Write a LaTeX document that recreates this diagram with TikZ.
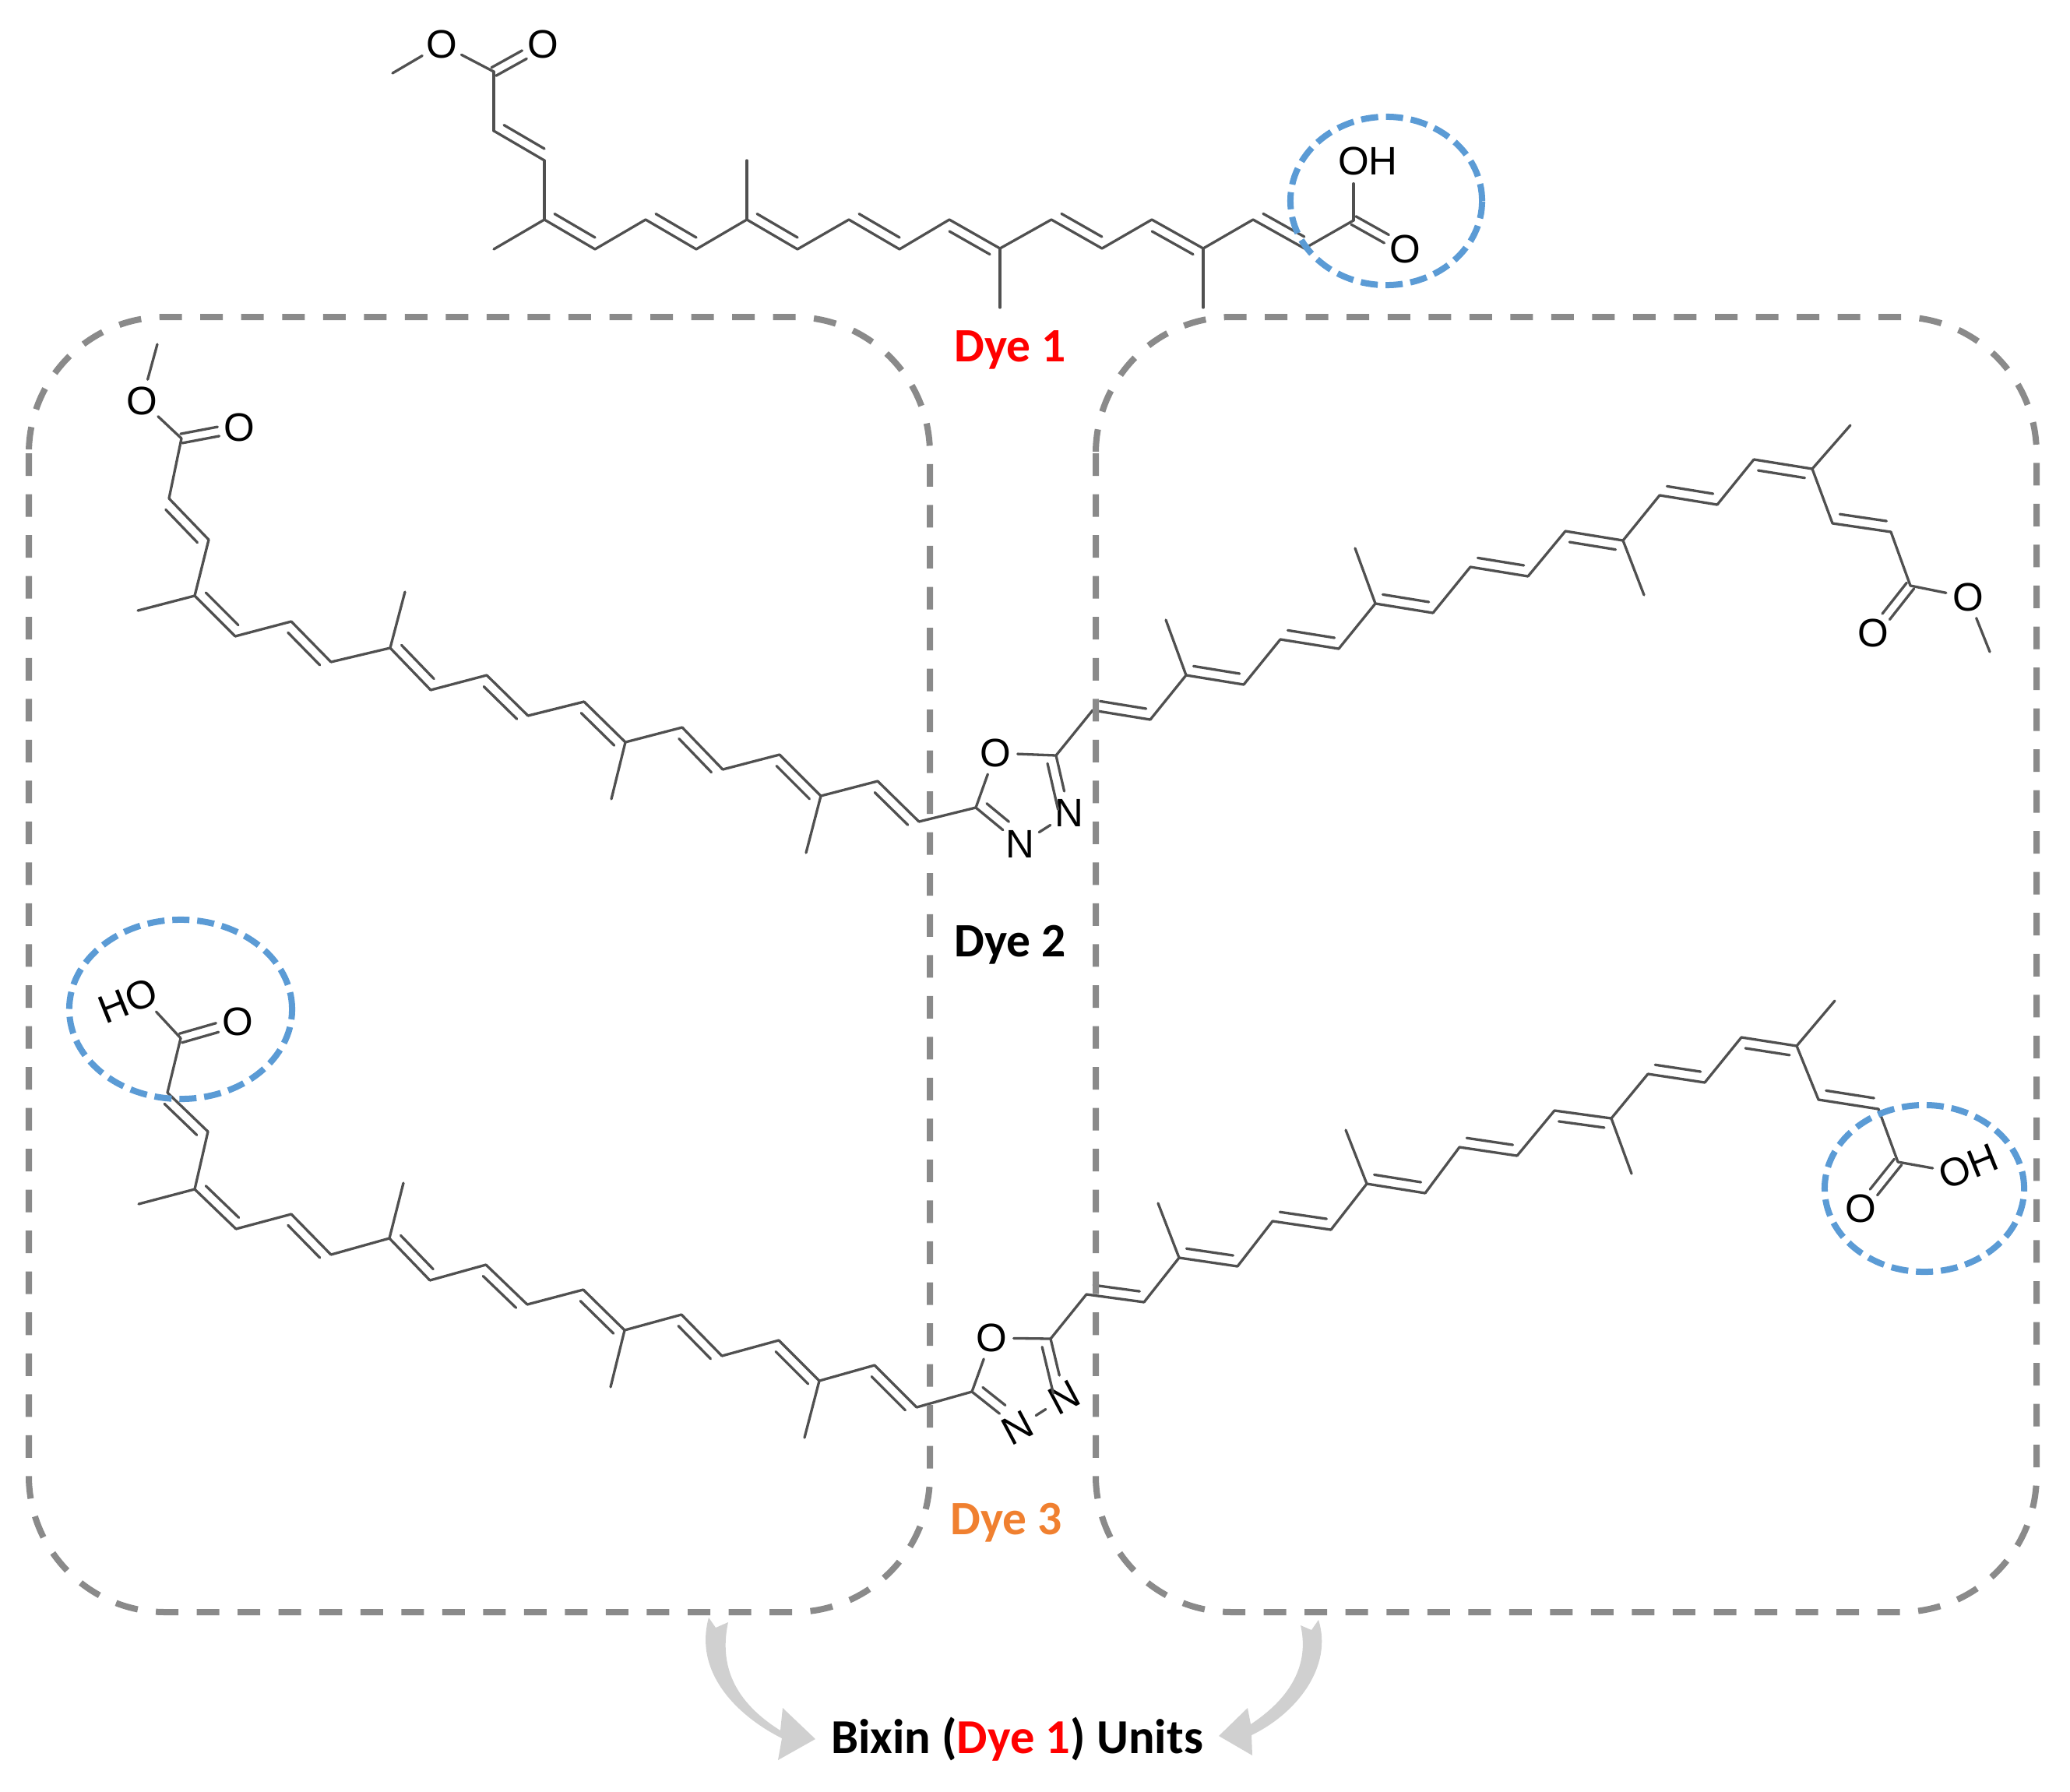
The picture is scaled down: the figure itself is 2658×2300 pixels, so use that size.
\documentclass[tikz,border=0pt]{standalone}
\usepackage{fontspec}
\setmainfont{Carlito}
\newfontfamily\chemfont{Liberation Sans}
\usetikzlibrary{calc}
\definecolor{dashgray}{HTML}{8A8A8A}
\definecolor{ringblue}{HTML}{5B9BD5}
\definecolor{dyeorange}{HTML}{F08030}
\definecolor{arrowgray}{HTML}{D0D0D0}
\definecolor{bondgray}{HTML}{505050}
\tikzset{
    bond/.style={line width=0.033cm, color=bondgray, line cap=round},
    atom/.style={circle, inner sep=0pt, minimum size=0.56cm, font=\chemfont\fontsize{14.5}{16}\selectfont},
    boxline/.style={line width=0.08cm, color=dashgray, rounded corners=1.75cm, dash pattern=on 0.29cm off 0.235cm},
    ringline/.style={line width=0.08cm, color=ringblue, dash pattern=on 0.22cm off 0.1cm},
    dyelabel/.style={anchor=base, font=\bfseries\fontsize{17.5}{20}\selectfont},
    bigarrow/.style={fill=arrowgray, draw=none}
}
% double bond: main line and a shorter one beside it
\newcommand{\dbond}[4][0.9]{
    \draw[bond] (#2) -- (#3);
    \draw[bond] ($(#2)!0.1!(#3)!0.13cm!#4:(#3)$) -- ($(#2)!#1!(#3)!0.13cm!#4:(#3)$);
}
% carbonyl: two equal lines towards the O
\newcommand{\cobond}[2]{
    \draw[bond, shorten >=0.27cm] ($(#1)!0.06cm!90:(#2)$) -- ($(#2)!0.06cm!-90:(#1)$);
    \draw[bond, shorten >=0.27cm] ($(#1)!0.06cm!-90:(#2)$) -- ($(#2)!0.06cm!90:(#1)$);
}
% polyene: singles from odd atoms, doubles from even atoms
\newcommand{\polyene}[2]{
    \foreach \i in {1,3,...,19} {
        \pgfmathtruncatemacro\j{\i+1}
        \draw[bond] (#1\i) -- (#1\j);
    }
    \foreach \i/\s in {#2} {
        \pgfmathtruncatemacro\j{\i+1}
        \dbond{#1\i}{#1\j}{\s}
    }
}

\begin{document}
\begin{tikzpicture}[x=0.01cm, y=-0.01cm]
    \useasboundingbox (0,0) rectangle (2658,2300);

    % Dye 1
    \foreach \n/\x/\y in {a1/634/92, a2/634/168, a3/699/206, a4/699/282, a5/764/320,
        a6/829/282, a7/894/320, a8/959/282, a9/1024/320, a10/1090/282, a11/1155/320,
        a12/1219/282, a13/1284/319, a14/1350/282, a15/1415/319, a16/1479/282,
        a17/1545/319, a18/1609/282, a19/1675/319, a20/1738/283,
        am0/504/94, am4/634/320, am8/959/206, am13/1284/395, am17/1545/395}
        \coordinate (\n) at (\x,\y);
    \polyene{a}{2/90,4/90,6/90,8/90,10/90,12/-90,14/90,16/-90,18/90}
    \foreach \m/\c in {am4/a4, am8/a8, am13/a13, am17/a17}
        \draw[bond] (\m) -- (\c);
    \node[atom] (ao1) at (567,57) {O};
    \node[atom] (ao2) at (697,57) {O};
    \node[atom] (ao3) at (1738,207) {O\rlap{H}};
    \node[atom] (ao4) at (1804,320) {O};
    \draw[bond] (am0) -- (ao1);
    \draw[bond] (ao1) -- (a1);
    \cobond{a1}{ao2}
    \draw[bond] (a20) -- (ao3);
    \cobond{a20}{ao4}

    % Dye 2, left arm
    \foreach \n/\x/\y in {b1/233/563, b2/217/640, b3/268/693, b4/250/765, b5/302/817,
        b6/374/798, b7/425/850, b8/501/832, b9/553/886, b10/625/867, b11/678/919,
        b12/750/901, b13/803/953, b14/876/934, b15/928/988, b16/1001/969,
        b17/1054/1022, b18/1127/1003, b19/1180/1055, b20/1253/1037,
        bm0/202/442, bm4/177/784, bm8/520/760, bm13/785/1026, bm17/1035/1095}
        \coordinate (\n) at (\x,\y);
    \polyene{b}{2/-90,4/90,6/-90,8/90,10/-90,12/-90,14/-90,16/-90,18/-90}
    \foreach \m/\c in {bm4/b4, bm8/b8, bm13/b13, bm17/b17}
        \draw[bond] (\m) -- (\c);
    \node[atom] (bo1) at (182,515) {O};
    \node[atom] (bo2) at (307,549) {O};
    \draw[bond] (bm0) -- (bo1);
    \draw[bond] (bo1) -- (b1);
    \cobond{b1}{bo2}

    % Dye 2, right arm
    \foreach \n/\x/\y in {d1/1356/970, d2/1403/912, d3/1477/924, d4/1523/867, d5/1597/879,
        d6/1644/821, d7/1719/833, d8/1766/775, d9/1840/787, d10/1888/728, d11/1962/740,
        d12/2010/682, d13/2084/694, d14/2131/636, d15/2205/648, d16/2252/590,
        d17/2327/602, d18/2353/672, d19/2428/683, d20/2453/752,
        dm4/1497/796, dm8/1740/704, dm13/2111/764, dm17/2376/546, dm0/2555/837}
        \coordinate (\n) at (\x,\y);
    \polyene{d}{2/90,4/90,6/90,8/90,10/90,12/-90,14/90,16/-90,18/90}
    \foreach \m/\c in {dm4/d4, dm8/d8, dm13/d13, dm17/d17}
        \draw[bond] (\m) -- (\c);
    \node[atom] (do1) at (2527,767) {O};
    \node[atom] (do2) at (2405,813) {O};
    \draw[bond] (d20) -- (do1);
    \draw[bond] (do1) -- (dm0);
    \cobond{d20}{do2}

    % Dye 2, ring
    \node[atom] (ro) at (1278,967) {O};
    \node[atom] (rn1) at (1373,1044) {N};
    \node[atom] (rn2) at (1310,1084) {N};
    \draw[bond] (b20) -- (ro);
    \draw[bond] (ro) -- (d1);
    \dbond{d1}{rn1}{-90}
    \dbond[0.6]{b20}{rn2}{90}
    \draw[bond] (rn1) -- (rn2);

    % Dye 3, left arm
    \foreach \n/\x/\y in {e1/232/1333, e2/215/1403, e3/267/1453, e4/250/1527, e5/303/1578,
        e6/374/1559, e7/425/1611, e8/500/1590, e9/552/1644, e10/624/1624, e11/677/1675,
        e12/749/1656, e13/802/1708, e14/875/1688, e15/927/1741, e16/1000/1721,
        e17/1052/1773, e18/1123/1753, e19/1177/1807, e20/1248/1787,
        em4/178/1546, em8/518/1519, em13/784/1781, em17/1033/1846}
        \coordinate (\n) at (\x,\y);
    \polyene{e}{2/-90,4/90,6/-90,8/90,10/-90,12/-90,14/-90,16/-90,18/-90}
    \foreach \m/\c in {em4/e4, em8/e8, em13/e13, em17/e17}
        \draw[bond] (\m) -- (\c);
    \node[atom, rotate=22] (eo1) at (181,1278) {\llap{H}O};
    \node[atom] (eo2) at (305,1312) {O};
    \draw[bond] (eo1) -- (e1);
    \cobond{e1}{eo2}

    % Dye 3, right arm
    \foreach \n/\x/\y in {f1/1349/1719, f2/1395/1662, f3/1469/1672, f4/1514/1615, f5/1589/1626,
        f6/1634/1568, f7/1709/1579, f8/1755/1520, f9/1830/1532, f10/1874/1473, f11/1948/1484,
        f12/1996/1426, f13/2069/1436, f14/2116/1379, f15/2189/1390, f16/2236/1332,
        f17/2307/1343, f18/2335/1412, f19/2412/1424, f20/2437/1492,
        fm4/1487/1545, fm8/1728/1451, fm13/2095/1507, fm17/2356/1285}
        \coordinate (\n) at (\x,\y);
    \polyene{f}{2/90,4/90,6/90,8/90,10/90,12/-90,14/90,16/-90,18/90}
    \foreach \m/\c in {fm4/f4, fm8/f8, fm13/f13, fm17/f17}
        \draw[bond] (\m) -- (\c);
    \node[atom, rotate=22] (fo1) at (2510,1505) {O\rlap{H}};
    \node[atom] (fo2) at (2389,1552) {O};
    \draw[bond] (f20) -- (fo1);
    \cobond{f20}{fo2}

    % Dye 3, ring
    \node[atom] (so) at (1273,1718) {O};
    \node[atom, rotate=28] (sn1) at (1367,1794) {N};
    \node[atom, rotate=28] (sn2) at (1306,1833) {N};
    \draw[bond] (e20) -- (so);
    \draw[bond] (so) -- (f1);
    \dbond{f1}{sn1}{-90}
    \dbond[0.6]{e20}{sn2}{90}
    \draw[bond] (sn1) -- (sn2);

    % Dashed boxes
    \draw[boxline] (37,407) rectangle (1194,2070);
    \draw[boxline] (1407,407) rectangle (2615,2070);

    % Acid groups
    \draw[ringline] (1780,258) ellipse [x radius=1.23cm, y radius=1.08cm];
    \draw[ringline] (232,1296) ellipse [x radius=1.43cm, y radius=1.15cm];
    \draw[ringline] (2471,1526) ellipse [x radius=1.28cm, y radius=1.07cm];

    % Labels
    \node[dyelabel, text=red] (dye1) at (1297,464) {Dye 1};
    \node[dyelabel] (dye2) at (1297,1228) {Dye 2};
    \node[dyelabel, text=dyeorange] (dye3) at (1292,1970) {Dye 3};
    \node[dyelabel, font=\bfseries\fontsize{17.8}{20}\selectfont] (units) at (1306,2251) {Bixin (\textcolor{red}{Dye 1}) Units};

    % Grey arrows
    \fill[bigarrow] (910,2077) -- (919,2090) -- (935,2083) .. controls (925,2130) and (935,2180) .. (1002,2222)
        -- (1005,2193) -- (1047,2233) -- (999,2260) -- (1004,2232) .. controls (950,2205) and (890,2150) .. (910,2077) -- cycle;
    \fill[bigarrow] (1693,2080) -- (1684,2093) -- (1670,2087) .. controls (1680,2130) and (1665,2175) .. (1606,2214)
        -- (1602,2193) -- (1565,2229) -- (1608,2254) -- (1607,2228) .. controls (1665,2200) and (1712,2140) .. (1693,2080) -- cycle;
\end{tikzpicture}
\end{document}
